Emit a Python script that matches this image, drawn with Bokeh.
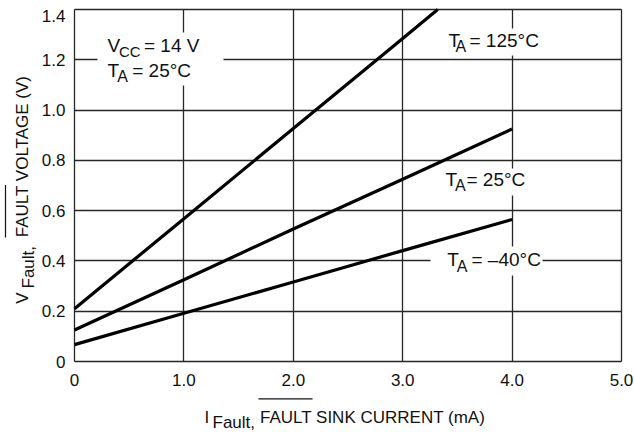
import math
from bokeh.plotting import figure
from bokeh.models import Label, BoxAnnotation, FixedTicker, Range1d, NumeralTickFormatter, Arrow, Grid
from bokeh.embed import file_html
from bokeh.resources import INLINE

# ---------------- data ----------------
current_125 = [0.0, 1.0, 2.0, 3.0, 3.32]
voltage_125 = [0.21, 0.568, 0.927, 1.285, 1.40]
current_25 = [0.0, 1.0, 2.0, 3.0, 4.0]
voltage_25 = [0.125, 0.325, 0.527, 0.725, 0.925]
current_m40 = [0.0, 1.0, 2.0, 3.0, 4.0]
voltage_m40 = [0.067, 0.192, 0.316, 0.441, 0.565]

x_ticks = [0, 1, 2, 3, 4, 5]
x_tick_labels = ["0", "1.0", "2.0", "3.0", "4.0", "5.0"]
y_ticks = [0, 0.2, 0.4, 0.6, 0.8, 1.0, 1.2, 1.4]
y_tick_labels = ["0", "0.2", "0.4", "0.6", "0.8", "1.0", "1.2", "1.4"]

FONT = "Liberation Sans"
INK = "#111111"

# ---------------- layout (pixels of the 634x432 picture) ----------------
CW, CH = 634, 432                 # whole canvas
FL, FT, FW, FH = 74, 9, 547, 352  # chart box inside it
X0, X1, Y0, Y1 = 0.0, 5.0, 0.0, 1.4
KX = (X1 - X0) / FW
KY = (Y1 - Y0) / FH
CAP = 0.358                        # half cap height, in em


def dx(cx):
    return X0 + (cx - FL) * KX


def dy(cy):
    return Y0 + (FT + FH - cy) * KY


p = figure(frame_width=CW, frame_height=CH,
           x_range=Range1d(dx(0), dx(CW)), y_range=Range1d(dy(CH), dy(0)),
           output_backend="svg", toolbar_location=None, min_border=0)
p.background_fill_color = "white"
p.border_fill_color = "white"
p.outline_line_color = None

# axes sit on the chart box edges
xlab = dict(zip(x_ticks, x_tick_labels))
ylab = dict(zip(y_ticks, y_tick_labels))
ylab[y_ticks[-1]] = ""   # drawn a little lower, like the reference
for ax, ticks, labs, loc in ((p.xaxis, x_ticks, xlab, Y0), (p.yaxis, y_ticks, ylab, X0)):
    ax.fixed_location = loc
    ax.ticker = FixedTicker(ticks=ticks)
    ax.formatter = NumeralTickFormatter(format="0.0")
    ax.major_label_overrides = labs
    ax.major_tick_out = 0
    ax.major_tick_in = 0
    ax.minor_tick_out = 0
    ax.minor_tick_in = 0
    ax.axis_line_color = None
    ax.major_label_text_font = FONT
    ax.major_label_text_font_size = "17px"
    ax.major_label_text_color = INK
p.xaxis.major_label_standoff = 12
p.yaxis.major_label_standoff = 9

GRID_COLOR = "#262626"
GRID_W = 1.3
has_cross = "cross_bounds" in Grid.properties()
if has_cross:
    p.xgrid.ticker = FixedTicker(ticks=x_ticks)
    p.ygrid.ticker = FixedTicker(ticks=y_ticks)
    p.xgrid.cross_bounds = (Y0, Y1)
    p.ygrid.cross_bounds = (X0, X1)
    for g in (p.xgrid, p.ygrid):
        g.grid_line_color = GRID_COLOR
        g.grid_line_width = GRID_W
else:
    for g in (p.xgrid, p.ygrid):
        g.visible = False
    p.segment(x0=x_ticks, y0=[Y0] * len(x_ticks), x1=x_ticks, y1=[Y1] * len(x_ticks),
              line_color=GRID_COLOR, line_width=GRID_W, level="underlay")
    p.segment(x0=[X0] * len(y_ticks), y0=y_ticks, x1=[X1] * len(y_ticks), y1=y_ticks,
              line_color=GRID_COLOR, line_width=GRID_W, level="underlay")


def wbox(cx0, cy0, cx1, cy1):
    p.add_layout(BoxAnnotation(left=dx(cx0), right=dx(cx1), top=dy(cy0), bottom=dy(cy1),
                               fill_color="white", fill_alpha=1.0, line_color=None,
                               level="underlay"))


# white boxes behind in-plot annotations
wbox(97, 32, 223, 85)
wbox(440, 28, 543, 55)
wbox(437, 168, 538, 195)
wbox(430, 246, 542, 275)

# curves
for xs, ys in ((current_125, voltage_125), (current_25, voltage_25), (current_m40, voltage_m40)):
    p.line(xs, ys, line_color="black", line_width=3.2)


def txt(s, cx, base, size, align="left"):
    """Horizontal text whose baseline sits at picture row `base`."""
    p.add_layout(Label(x=dx(cx), y=dy(base - CAP * size), text=s, text_font=FONT,
                       text_font_size=f"{size}px", text_align=align,
                       text_baseline="middle", text_color=INK))


def vtxt(s, base, cy, size):
    """Text turned to read upwards, whose baseline sits at picture column `base`."""
    p.add_layout(Label(x=dx(base - CAP * size), y=dy(cy), text=s, text_font=FONT,
                       text_font_size=f"{size}px", text_align="left",
                       text_baseline="middle", angle=math.pi / 2, text_color=INK))


def overline(cx0, cy0, cx1, cy1):
    p.add_layout(Arrow(x_start=dx(cx0), y_start=dy(cy0), x_end=dx(cx1), y_end=dy(cy1),
                       start=None, end=None, line_color=INK, line_width=1.2))


# top tick label, set a little lower as in the reference
txt(y_tick_labels[-1], 65, 21.7, 17, align="right")

# in-plot annotations
txt("V", 107, 51.7, 19)
txt("CC", 118.5, 56.7, 15)
txt("= 14 V", 143.5, 51.7, 19)
txt("T", 107, 76.7, 19)
txt("A", 116.7, 82.0, 16)
txt("= 25°C", 131.7, 76.7, 19)

txt("T", 448, 46.7, 19)
txt("A", 455, 51.7, 16)
txt("= 125°C", 469, 46.7, 19)

txt("T", 445, 185.7, 19)
txt("A", 454.5, 191.0, 16)
txt("= 25°C", 466, 185.7, 19)

txt("T", 446.7, 265.7, 19)
txt("A", 456.2, 271.3, 16)
txt("= –40°C", 471, 265.7, 19)

# x axis title
txt("I", 204, 422.7, 17)
txt("Fault,", 212, 428.0, 17)
txt("FAULT SINK CURRENT (mA)", 259.5, 422.7, 17)
overline(258, 398.3, 312, 398.3)

# y axis title (reads upwards)
vtxt("V", 28.3, 303.3, 17)
vtxt("Fault,", 33.9, 288.0, 17)
vtxt("FAULT VOLTAGE (V)", 28.3, 236.7, 17)
overline(5, 237, 5, 184.5)

open("out.html", "w").write(file_html(p, INLINE))
